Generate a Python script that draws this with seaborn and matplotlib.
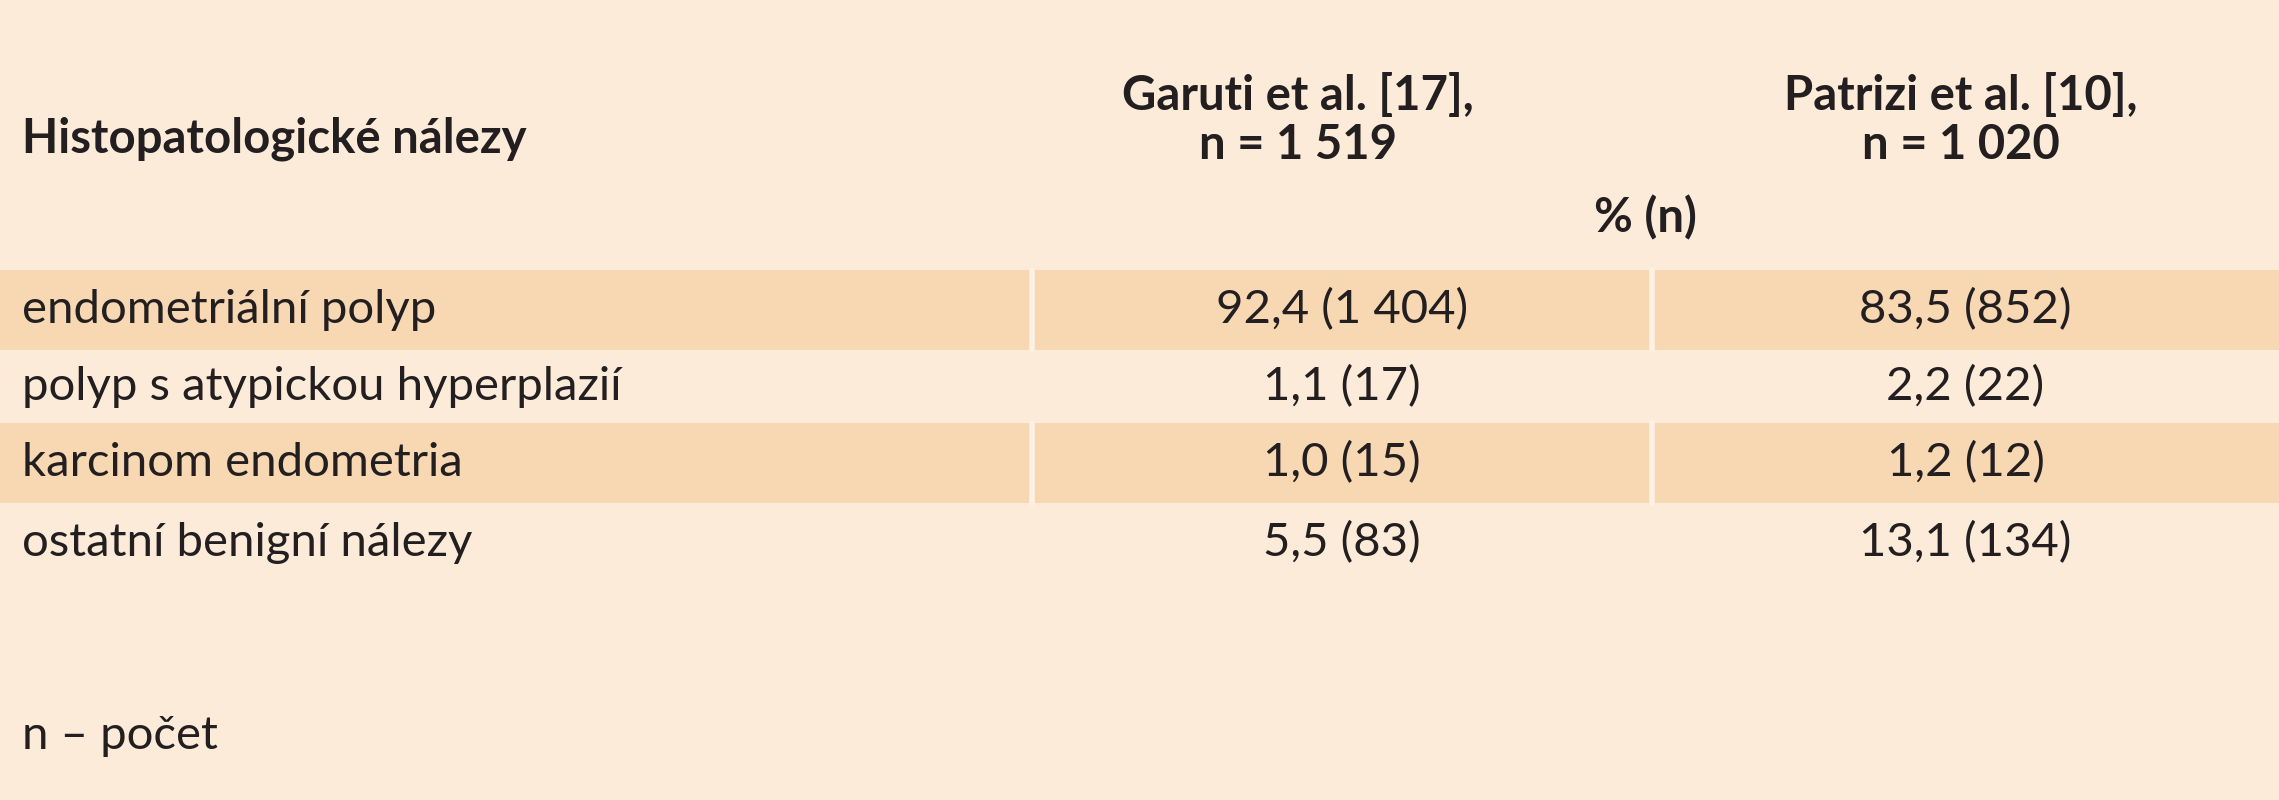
import matplotlib
matplotlib.use("Agg")
import matplotlib.pyplot as plt
import seaborn as sns

sns.set_theme(style="white")
plt.rcParams['font.family'] = ['Lato', 'DejaVu Sans']

row_header = "Histopatologické nálezy"
col_headers = ["Garuti et al. [17],\nn = 1 519", "Patrizi et al. [10],\nn = 1 020"]
sub_header = "% (n)"
categories = ["endometriální polyp", "polyp s atypickou hyperplazií",
              "karcinom endometria", "ostatní benigní nálezy"]
garuti = ["92,4 (1 404)", "1,1 (17)", "1,0 (15)", "5,5 (83)"]
patrizi = ["83,5 (852)", "2,2 (22)", "1,2 (12)", "13,1 (134)"]
footnote = "n – počet"

W, H = 2279, 800
fig = plt.figure(figsize=(W/100, H/100), dpi=100)
fig.patch.set_facecolor("#fcebd9")
ax = fig.add_axes([0, 0, 1, 1])
ax.set_xlim(0, W); ax.set_ylim(H, 0); ax.axis("off")
ax.set_facecolor("#fcebd9")

c1, c2 = 1032, 1652
x_g, x_p = (c1 + c2) / 2, (c2 + W) / 2
hx_g, hx_p = 1298, 1961
row_top = [270, 350, 423, 503]
row_bot = [350, 423, 503, 583]
band = "#f7d8b3"
fs = 34
tc = "#231f20"
for i, (cat, g, p) in enumerate(zip(categories, garuti, patrizi)):
    t, b = row_top[i], row_bot[i]
    if i % 2 == 0:
        ax.fill_between([0, W], t, b, color=band, lw=0)
        for cx in (c1, c2):
            ax.plot([cx, cx], [t, b], color="#fdf1e4", lw=4)
    yc = (t + b) / 2
    ax.text(22, yc, cat, va="center", ha="left", fontsize=fs, color=tc)
    ax.text(x_g, yc, g, va="center", ha="center", fontsize=fs, color=tc)
    ax.text(x_p, yc, p, va="center", ha="center", fontsize=fs, color=tc)

ax.text(22, 139, row_header, va="center", ha="left", fontsize=fs, weight="bold", color=tc)
for x, h in zip([hx_g, hx_p], col_headers):
    ax.text(x, 120, h, va="center", ha="center", fontsize=fs, weight="bold",
            color=tc, linespacing=1.15)
ax.text((c1 + W) / 2 - 10, 218, sub_header, va="center", ha="center", fontsize=fs,
        weight="bold", color=tc)
ax.text(22, 736, footnote, va="center", ha="left", fontsize=fs, color=tc)

fig.savefig("out.png", dpi=100, facecolor=fig.get_facecolor())
